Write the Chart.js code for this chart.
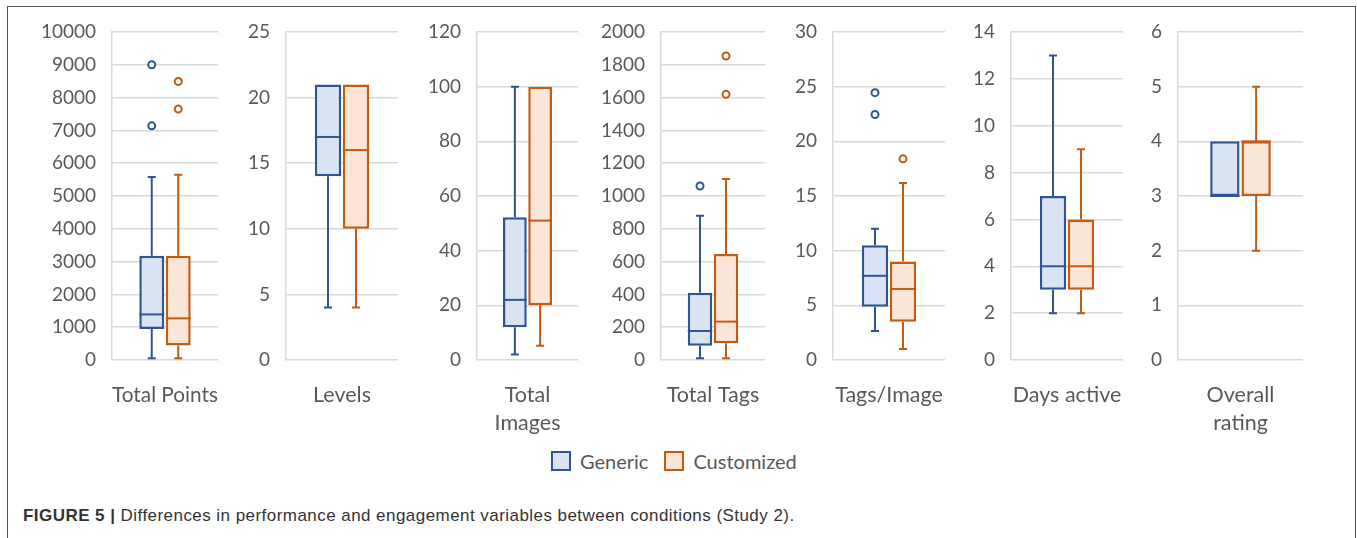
<!DOCTYPE html>
<html>
<head>
<meta charset="utf-8">
<script src="https://cdn.jsdelivr.net/npm/chart.js@4.4.1/dist/chart.umd.min.js"></script>
<style>
  body { margin: 0; background: #fff; }
  #fig { position: relative; width: 1357px; height: 538px; overflow: hidden; }
  #frame { position: absolute; left: 7px; top: 6px; width: 1347px; height: 560px; border: 1.5px solid #555; }
  canvas { position: absolute; top: 0; }
  #legend { position: absolute; left: 551px; top: 449px; display: flex; align-items: center;
            font: 20px Lato, sans-serif; color: #595959; }
  #legend .sw { width: 16px; height: 16px; border: 2px solid; margin-right: 9px; }
  #legend span.lab { margin-right: 16px; }
  #caption { position: absolute; left: 23px; top: 506px; font: 17px "Liberation Sans", Arial, sans-serif;
             letter-spacing: 0.45px; color: #333; }
</style>
</head>
<body>
<div id="fig">
  <div id="frame"></div>
  <div id="legend">
    <div class="sw" style="background:#dae3f3;border-color:#2f5597"></div><span class="lab">Generic</span>
    <div class="sw" style="background:#fbe5d6;border-color:#c55a11"></div><span class="lab">Customized</span>
  </div>
  <div id="caption"><b>FIGURE 5 |</b> Differences in performance and engagement variables between conditions (Study 2).</div>
</div>
<script>
const categories = ['Total Points', 'Levels', ['Total', 'Images'], 'Total Tags', 'Tags/Image', 'Days active', ['Overall', 'rating']];
const yMax  = [10000, 25, 120, 2000, 30, 14, 6];
const yStep = [1000, 5, 20, 200, 5, 2, 1];

// Generic condition
const genMin    = [50, 4, 2, 10, 2.65, 2, 3];
const genQ1     = [945, 14, 12, 87, 4.88, 3, 3];
const genMedian = [1390, 17, 22, 177, 7.7, 4, 3];
const genQ3     = [3180, 21, 52.2, 410, 10.5, 7, 4];
const genMax    = [5580, 21, 100, 880, 12, 13, 4];
const genOut    = [[9000, 7140], [], [], [1061], [24.45, 22.45], [], []];

// Customized condition
const cusMin    = [50, 4, 5.2, 10, 1, 2, 2];
const cusQ1     = [440, 10, 20, 102, 3.5, 3, 3];
const cusMedian = [1270, 16, 51, 234, 6.5, 4, 4];
const cusQ3     = [3180, 21, 100, 646, 9, 6, 4];
const cusMax    = [5650, 21, 100, 1104, 16.2, 9, 5];
const cusOut    = [[8490, 7650], [], [], [1854, 1620], [18.4], [], []];

// panel placement: canvas left, axis x, plot right
const panelLeft  = [38, 220, 400, 580, 767, 947, 1125];
const panelAxis  = [112, 286, 477, 661, 833, 1011, 1178];
const panelRight = [218, 398, 578, 765, 945, 1123, 1303];

const CANVAS_H = 440;
const TITLE_LH = 28;

const boxPlot = {
  id: 'boxPlot',
  afterDatasetsDraw(chart) {
    const ctx = chart.ctx;
    const y = chart.scales.y;
    chart.data.datasets.forEach((ds, i) => {
      const bar = chart.getDatasetMeta(i).data[0];
      const s = ds.stats;
      const x = bar.x;
      const half = bar.width / 2;
      ctx.save();
      ctx.strokeStyle = ds.borderColor;
      ctx.lineWidth = 2;
      // median
      ctx.beginPath();
      ctx.moveTo(x - half, y.getPixelForValue(s.med));
      ctx.lineTo(x + half, y.getPixelForValue(s.med));
      ctx.stroke();
      // whiskers
      const seg = (a, b) => {
        if (a === b) return;
        const pa = y.getPixelForValue(a), pb = y.getPixelForValue(b);
        ctx.beginPath();
        ctx.moveTo(x, pa); ctx.lineTo(x, pb);
        ctx.moveTo(x - 4, pb); ctx.lineTo(x + 4, pb);
        ctx.stroke();
      };
      seg(s.q3, s.max);
      seg(s.q1, s.min);
      // outliers
      s.out.forEach(v => {
        ctx.beginPath();
        ctx.arc(x, y.getPixelForValue(v), 3.5, 0, Math.PI * 2);
        ctx.fillStyle = '#fff';
        ctx.fill();
        ctx.stroke();
      });
      ctx.restore();
    });
  }
};

categories.forEach((cat, p) => {
  const cv = document.createElement('canvas');
  const w = panelRight[p] - panelLeft[p];
  cv.style.left = panelLeft[p] + 'px';
  cv.style.width = w + 'px';
  cv.style.height = CANVAS_H + 'px';
  cv.width = w; cv.height = CANVAS_H;
  document.getElementById('fig').appendChild(cv);

  const lines = Array.isArray(cat) ? cat.length : 1;
  const axisW = panelAxis[p] - panelLeft[p];

  new Chart(cv, {
    type: 'bar',
    data: {
      labels: [''],
      datasets: [
        {
          label: 'Generic',
          data: [[genQ1[p], genQ3[p]]],
          backgroundColor: '#dae3f3',
          borderColor: '#2f5597',
          stats: { min: genMin[p], q1: genQ1[p], med: genMedian[p], q3: genQ3[p], max: genMax[p], out: genOut[p] }
        },
        {
          label: 'Customized',
          data: [[cusQ1[p], cusQ3[p]]],
          backgroundColor: '#fbe5d6',
          borderColor: '#c55a11',
          stats: { min: cusMin[p], q1: cusQ1[p], med: cusMedian[p], q3: cusQ3[p], max: cusMax[p], out: cusOut[p] }
        }
      ]
    },
    options: {
      responsive: false,
      animation: false,
      layout: { padding: { top: 32, right: 0, left: 0, bottom: 0 } },
      datasets: {
        bar: { borderWidth: 2.5, borderSkipped: false, categoryPercentage: 0.5, barPercentage: 0.94 }
      },
      plugins: { legend: { display: false }, tooltip: { enabled: false } },
      scales: {
        x: {
          grid: { display: false },
          border: { display: false },
          ticks: { display: false },
          afterFit: s => { s.height = CANVAS_H - 360; },
          title: {
            display: true,
            text: cat,
            color: '#595959',
            font: { family: 'Lato', size: 21.5, lineHeight: TITLE_LH / 21.5 },
            padding: { top: 0, bottom: CANVAS_H - 395 - TITLE_LH / 2 - TITLE_LH * (lines - 1) }
          }
        },
        y: {
          min: 0,
          max: yMax[p],
          ticks: {
            stepSize: yStep[p], padding: 16, color: '#595959',
            font: { family: 'Lato', size: 19 },
            callback: v => String(v)
          },
          grid: { color: '#d9d9d9', lineWidth: 1.5, drawTicks: false },
          border: { color: '#d9d9d9', width: 1.5 },
          afterFit: s => { s.width = axisW; }
        }
      }
    },
    plugins: [boxPlot]
  });
});
</script>
</body>
</html>
